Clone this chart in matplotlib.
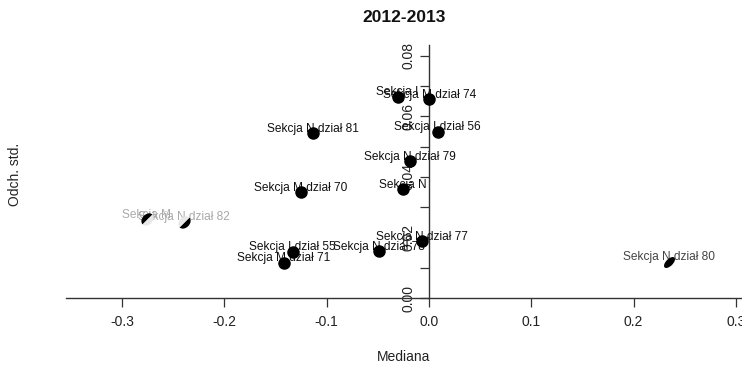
import matplotlib
matplotlib.use("Agg")
import matplotlib.pyplot as plt
from matplotlib import font_manager
from matplotlib.markers import MarkerStyle
from matplotlib.transforms import Affine2D

# Median vs standard deviation of changes, 2012-2013, by PKD section/division
labels = [
    "Sekcja M dział 74", "Sekcja I", "Sekcja I dział 56", "Sekcja N dział 81",
    "Sekcja N dział 79", "Sekcja N", "Sekcja M dział 70", "Sekcja N dział 77",
    "Sekcja N dział 78", "Sekcja I dział 55", "Sekcja M dział 71",
    "Sekcja M", "Sekcja N dział 82", "Sekcja N dział 80",
]
mediana = [0.0003, -0.0306, 0.0085, -0.1137, -0.0186, -0.0257, -0.1251,
           -0.0071, -0.0489, -0.1332, -0.1417, -0.2759, -0.2394, 0.2345]
odch_std = [0.0656, 0.0665, 0.0549, 0.0544, 0.0453, 0.0360, 0.0349,
            0.0189, 0.0155, 0.0153, 0.0117, 0.0260, 0.0252, 0.0120]
# marker variant for each point
style = ["full"] * 11 + ["half_ul", "half_lr", "slash"]

x_ticks = [-0.3, -0.2, -0.1, 0.0, 0.1, 0.2, 0.3]
x_ticklabels = ["-0.3", "-0.2", "-0.1", "0.0", "0.1", "0.2", "0.3"]
y_ticks = [0.00, 0.01, 0.02, 0.03, 0.04, 0.05, 0.06, 0.07, 0.08]
y_ticklabels = ["0.00", "", "0.02", "", "0.04", "", "0.06", "", "0.08"]

installed = {f.name for f in font_manager.fontManager.ttflist}
narrow = "Liberation Sans Narrow" if "Liberation Sans Narrow" in installed else "Liberation Sans"
regular = "Liberation Sans"
plt.rcParams["font.family"] = [regular, "DejaVu Sans"]

W, H = 742, 370
fig = plt.figure(figsize=(W / 100, H / 100), dpi=100)
ax = fig.add_axes([66 / W, 1 - 298 / H, (742 - 66) / W, (298 - 45) / H])
ax.set_xlim(-0.3547, 0.3059)
ax.set_ylim(0.0, 0.0835)

for s in ("top", "right"):
    ax.spines[s].set_visible(False)
ax.spines["left"].set_position(("data", 0.0))
for s in ("left", "bottom"):
    ax.spines[s].set_color("#333333")
    ax.spines[s].set_linewidth(1.0)

ax.set_xticks(x_ticks)
ax.set_xticklabels(x_ticklabels, fontfamily=narrow, fontsize=10, color="#222222")
ax.set_yticks(y_ticks)
ax.set_yticklabels(y_ticklabels, fontfamily=narrow, fontsize=10, color="#222222",
                   rotation=90, va="center")
ax.tick_params(axis="both", direction="out", length=6.5, width=0.9, color="#333333")
ax.tick_params(axis="x", pad=6)
ax.tick_params(axis="y", pad=3)

# labels first, points on top of them
for lab, xv, yv, st in zip(labels, mediana, odch_std, style):
    if st in ("half_ul", "half_lr"):
        col = "#a9a9a9"
    elif st == "slash":
        col = "#444444"
    else:
        col = "#111111"
    ax.annotate(lab, (xv, yv), xytext=(0, 3), textcoords="offset points",
                ha="center", va="center", fontsize=8.6, color=col,
                fontfamily=regular, zorder=3, annotation_clip=False)

for xv, yv, st in zip(mediana, odch_std, style):
    if st == "full":
        ax.plot([xv], [yv], marker="o", markersize=8, color="black",
                linestyle="none", zorder=4, clip_on=False)
    elif st == "slash":
        ms = MarkerStyle("o", transform=Affine2D().scale(1.0, 0.5).rotate_deg(45))
        ax.plot([xv], [yv], marker=ms, markersize=10, color="black",
                markeredgewidth=0, linestyle="none", zorder=4, clip_on=False)
    else:
        rot = -45 if st == "half_ul" else 135
        ms = MarkerStyle("o", fillstyle="left",
                         transform=Affine2D().scale(0.75, 1.0).rotate_deg(rot))
        ax.plot([xv], [yv], marker=ms, markersize=10, color="black",
                markerfacecoloralt="#e8e8e8", markeredgewidth=0, linestyle="none",
                zorder=4, clip_on=False)

fig.text(404 / W, 1 - 17 / H, "2012-2013", ha="center", va="center",
         fontfamily=narrow, fontweight="bold", fontsize=12.5, color="#111111")
fig.text(404 / W, 1 - 357 / H, "Mediana", ha="center", va="center",
         fontfamily=narrow, fontsize=10, color="#222222")
fig.text(15 / W, 1 - 174 / H, "Odch. std.", ha="center", va="center",
         rotation=90, fontfamily=narrow, fontsize=10, color="#222222")

fig.savefig("out.png", dpi=100, facecolor="white")
